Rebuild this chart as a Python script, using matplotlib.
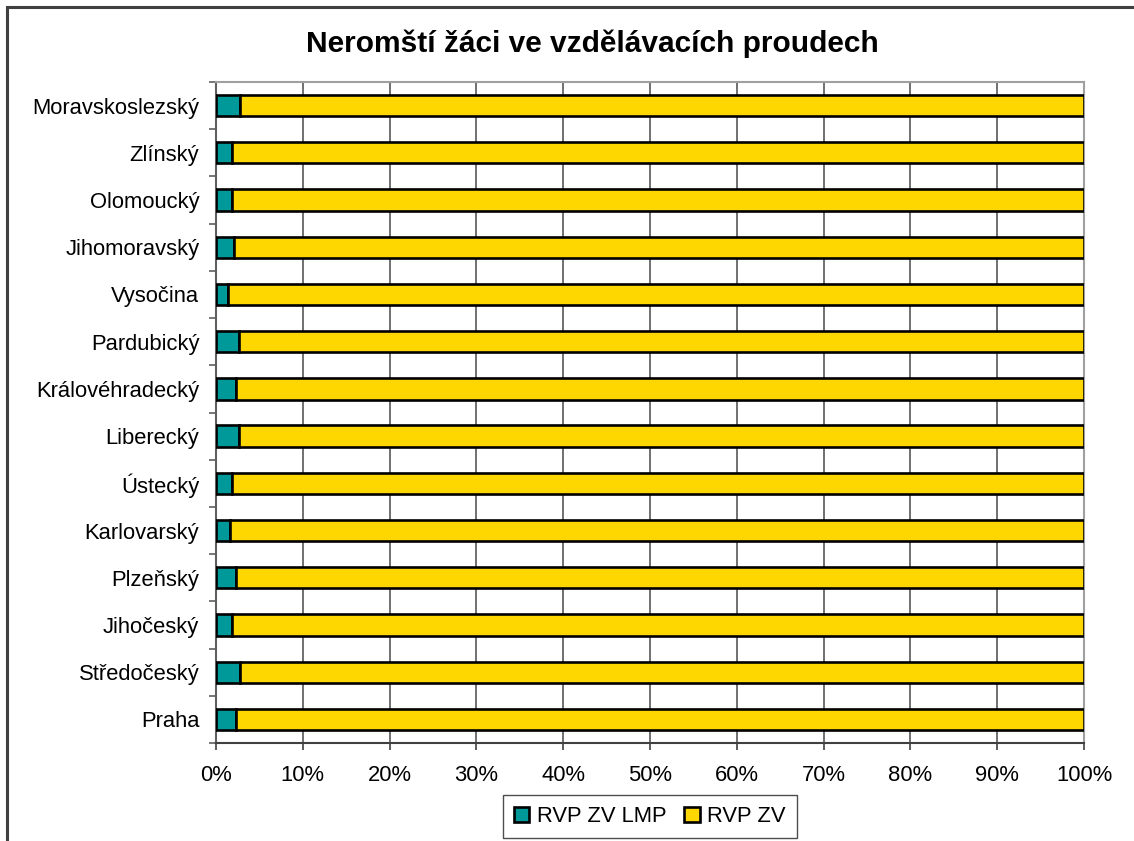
import matplotlib
matplotlib.use("Agg")
import matplotlib.pyplot as plt
from matplotlib.patches import Rectangle
import numpy as np

plt.rcParams['font.family'] = ['Liberation Sans', 'DejaVu Sans']

regions = ["Praha", "Středočeský", "Jihočeský", "Plzeňský", "Karlovarský", "Ústecký",
           "Liberecký", "Královéhradecký", "Pardubický", "Vysočina", "Jihomoravský",
           "Olomoucký", "Zlínský", "Moravskoslezský"]
lmp_pct = [2.3, 2.8, 1.9, 2.3, 1.6, 1.9, 2.6, 2.3, 2.6, 1.4, 2.1, 1.9, 1.85, 2.8]
zv_pct = [100 - v for v in lmp_pct]
series_names = ["RVP ZV LMP", "RVP ZV"]
x_ticks = list(range(0, 101, 10))
x_labels = [f"{t}%" for t in x_ticks]
title = "Neromští žáci ve vzdělávacích proudech"

W, H = 1134, 841
fig = plt.figure(figsize=(W / 100, H / 100), dpi=100)
fig.patches.append(Rectangle((7 / W, -0.1), 1.2, (H - 7) / H + 0.1, transform=fig.transFigure,
                             fill=False, edgecolor='#404040', linewidth=2.2, zorder=0))

ax = fig.add_axes([216 / W, 1 - 743 / H, (1084 - 216) / W, (743 - 82) / H])
y = np.arange(len(regions))
teal = '#009999'
yellow = '#FFD700'
h = 0.45
ax.barh(y, lmp_pct, height=h, color=teal, edgecolor='black', linewidth=1.9, label=series_names[0], zorder=3)
ax.barh(y, zv_pct, left=lmp_pct, height=h, color=yellow, edgecolor='black', linewidth=1.9, label=series_names[1], zorder=3)

ax.set_xlim(0, 100)
ax.set_ylim(-0.5, len(regions) - 0.5)
ax.set_xticks(x_ticks)
ax.set_xticklabels(x_labels, fontsize=15.8)
ax.set_yticks(y)
ax.set_yticklabels(regions, fontsize=15.8)
ax.set_yticks(np.arange(-0.5, len(regions)), minor=True)
ax.tick_params(axis='y', which='major', length=0, pad=12)
ax.tick_params(axis='y', which='minor', length=5, width=1.2, color='#606060', direction='out')
ax.tick_params(axis='x', which='major', length=5, width=1.2, color='#404040', direction='out', pad=11)

ax.grid(axis='x', color='#707070', linewidth=1.4, zorder=0)
ax.set_axisbelow(True)
for s in ['top', 'right']:
    ax.spines[s].set_color('#a0a0a0')
    ax.spines[s].set_linewidth(1.5)
ax.spines['left'].set_color('#606060')
ax.spines['left'].set_linewidth(1.5)
ax.spines['bottom'].set_color('#404040')
ax.spines['bottom'].set_linewidth(1.5)

fig.text(592 / W, 1 - 44 / H, title, ha='center', va='center', fontsize=21.5, fontweight='bold')

leg = fig.legend(loc='upper center', bbox_to_anchor=(650 / W, 1 - 795 / H), ncol=2,
                 fontsize=15.8, frameon=True, fancybox=False, edgecolor='#202020',
                 handlelength=0.7, handleheight=0.7, handletextpad=0.35, columnspacing=0.8,
                 borderpad=0.5, borderaxespad=0.0)
leg.get_frame().set_linewidth(1.0)

fig.savefig("out.png", dpi=100)
